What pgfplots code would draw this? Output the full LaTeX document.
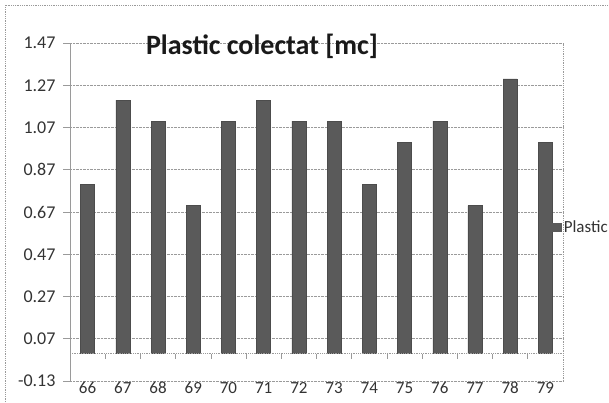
\documentclass[border=0pt]{standalone}
\usepackage{pgfplots}
\pgfplotsset{compat=1.18}
\usepackage{fontspec}
\setmainfont{Carlito}
\definecolor{barfill}{HTML}{5A5A5A}
\definecolor{gridc}{HTML}{9A9A9A}
\begin{document}
\begin{tikzpicture}[x=1pt,y=1pt]
\begin{axis}[
  at={(70pt,21pt)}, anchor=south west,
  scale only axis, width=493pt, height=338pt,
  xmin=-0.5, xmax=13.5, ymin=-0.13, ymax=1.47,
  ytick={-0.13,0.07,0.27,0.47,0.67,0.87,1.07,1.27,1.47},
  yticklabels={-0.13,0.07,0.27,0.47,0.67,0.87,1.07,1.27,1.47},
  xtick={0,1,2,3,4,5,6,7,8,9,10,11,12,13},
  xticklabels={66,67,68,69,70,71,72,73,74,75,76,77,78,79},
  ymajorgrids, grid style={gridc, densely dotted, line width=0.8pt},
  axis line style={draw=none},
  x tick style={draw=none},
  y tick style={gridc, line width=0.8pt},
  ytick pos=left, xtick pos=bottom,
  tick align=outside, major tick length=7pt,
  yticklabel style={font=\fontsize{18}{20}\selectfont, text=black!80, xshift=-4pt},
  xticklabel style={font=\fontsize{17}{19}\selectfont, text=black!80, anchor=center, yshift=0pt},
  /pgf/number format/assume math mode=true,
  legend style={at={(0.978,0.455)}, anchor=west, draw=none, fill=none,
    inner sep=0pt, font=\fontsize{17}{19}\selectfont, text=black!80,
    legend cell align=left},
  legend image code/.code={\fill[barfill] (0pt,-4pt) rectangle (9pt,4pt);},
  clip=false,
]
\draw[gridc, densely dotted, line width=0.8pt] (rel axis cs:1,0) -- (rel axis cs:1,1);
\draw[gridc, line width=0.8pt] (rel axis cs:0,0) -- (rel axis cs:0,1);
\addplot[ybar, bar width=14pt, fill=barfill, draw=black!70] coordinates {
(0,0.8) (1,1.2) (2,1.1) (3,0.7) (4,1.1) (5,1.2) (6,1.1)
(7,1.1) (8,0.8) (9,1.0) (10,1.1) (11,0.7) (12,1.3) (13,1.0)};
\addlegendentry{Plastic colectat [mc]}
\draw[gridc, densely dotted, line width=0.8pt] (axis cs:-0.5,0) -- (axis cs:13.5,0);
\pgfplotsinvokeforeach{0.5,1.5,2.5,3.5,4.5,5.5,6.5,7.5,8.5,9.5,10.5,11.5,12.5}{
  \draw[gridc, line width=0.6pt] (axis cs:#1,0) -- ++(0pt,-5pt);
}
\end{axis}
\node[font=\bfseries\fontsize{28}{32}\selectfont, text=black!90] at (262pt,356pt) {Plastic colectat [mc]};
\draw[gridc, densely dotted, line width=0.8pt] (5pt,0pt) -- (5pt,397pt) -- (609pt,397pt);
\pgfresetboundingbox
\useasboundingbox (0,0) rectangle (609pt,402pt);
\end{tikzpicture}
\end{document}
